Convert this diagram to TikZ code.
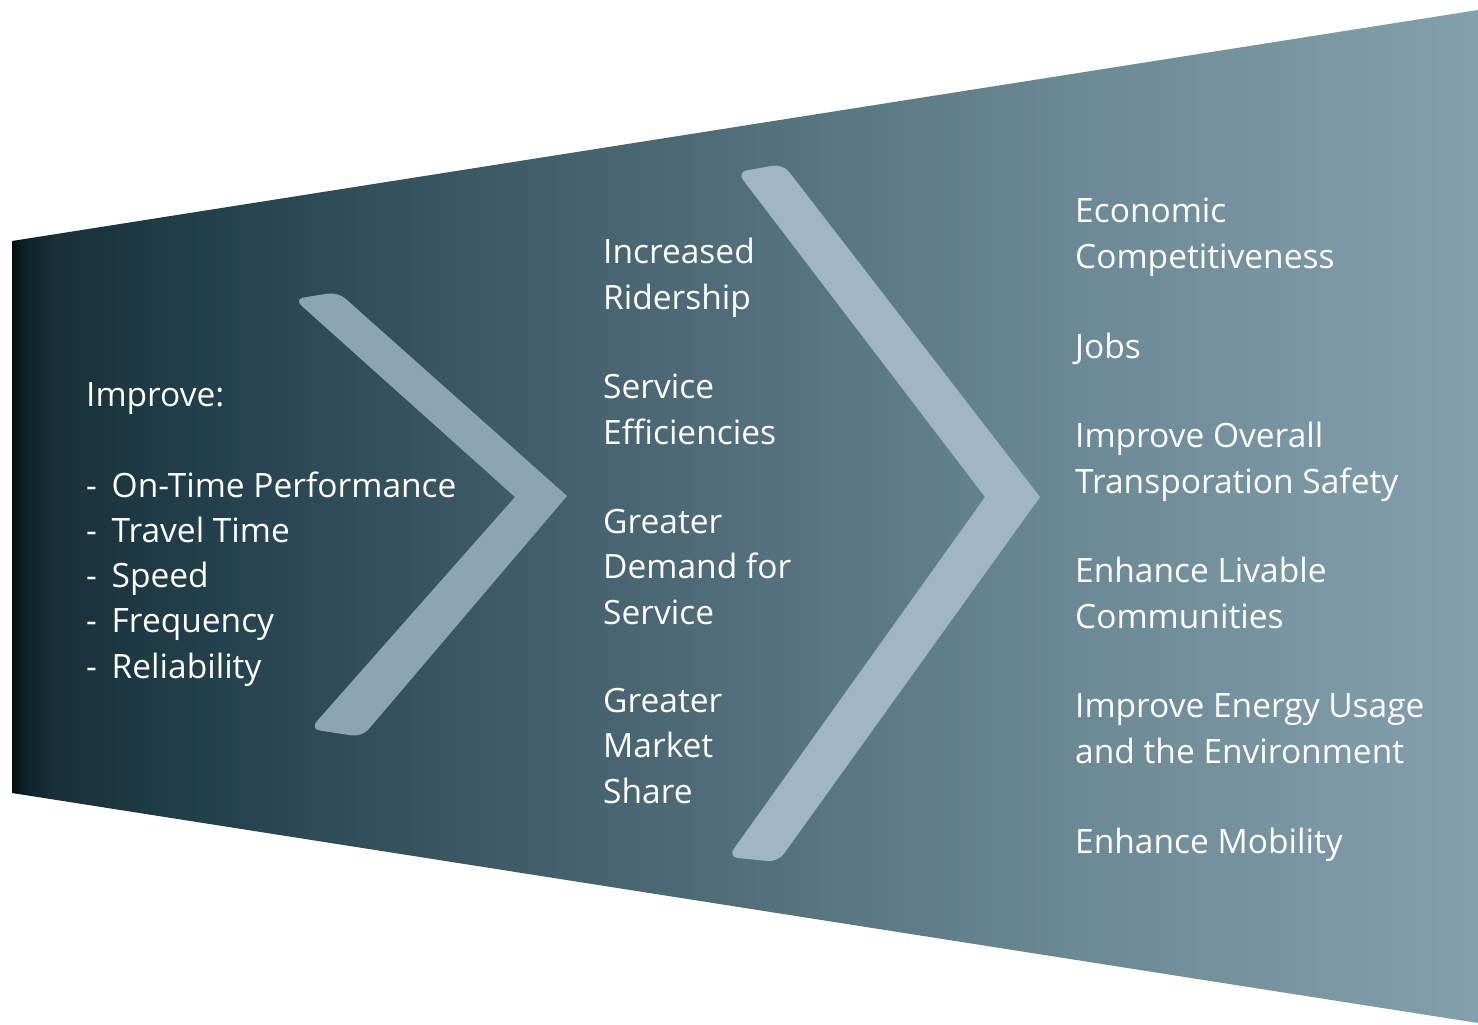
\documentclass[tikz,border=0pt]{standalone}
\usepackage{fontspec}
\setmainfont{Open Sans}
\definecolor{funnelA}{HTML}{030D11}
\definecolor{funnelB}{HTML}{0E232B}
\definecolor{funnelC}{HTML}{183039}
\definecolor{funnelD}{HTML}{22404B}
\definecolor{funnelE}{HTML}{2C4955}
\definecolor{funnelF}{HTML}{45626E}
\definecolor{funnelG}{HTML}{6B8895}
\definecolor{funnelH}{HTML}{84A0AC}
\definecolor{chevA}{HTML}{8CA5B2}
\definecolor{chevB}{HTML}{A0B6C2}
% the band only shows the middle half (25bp--75bp) of the shading
\pgfdeclarehorizontalshading{funnelshade}{100bp}{color(0bp)=(funnelA); color(25bp)=(funnelA);
  color(25.5bp)=(funnelB); color(26.5bp)=(funnelC); color(31.5bp)=(funnelD);
  color(35bp)=(funnelE); color(44.5bp)=(funnelF); color(61bp)=(funnelG);
  color(75bp)=(funnelH); color(100bp)=(funnelH)}
\newcommand\listdash{\makebox[25.5pt][l]{-}}
\begin{document}
\begin{tikzpicture}[x=1pt,y=-1pt,
  txt/.style={anchor=base west, inner sep=0pt, text=white, align=left,
    font=\fontsize{33.5}{45.2}\selectfont}]
\useasboundingbox (0,0) rectangle (1478,1025);
\fill[white] (0,0) rectangle (1478,1025);

% widening band
\shade[shading=funnelshade] (12,241) -- (1478,10) -- (1478,1023) -- (12,793) -- cycle;

% first chevron
\coordinate (a1) at (294,299);
\coordinate (a2) at (338,292);
\coordinate (a3) at (567,496);
\coordinate (a4) at (362,737);
\coordinate (a5) at (310,729);
\coordinate (a6) at (515,497);
\fill[chevA] (a1) [rounded corners=10] -- (a2) [sharp corners] -- (a3)
  [rounded corners=10] -- (a4) -- (a5) [sharp corners] -- (a6)
  [rounded corners=10] -- cycle;

% second chevron
\coordinate (b1) at (737,172);
\coordinate (b2) at (783,164);
\coordinate (b3) at (1040,497);
\coordinate (b4) at (778,862);
\coordinate (b5) at (728,857);
\coordinate (b6) at (985,497);
\fill[chevB] (b1) [rounded corners=10] -- (b2) [sharp corners] -- (b3)
  [rounded corners=10] -- (b4) -- (b5) [sharp corners] -- (b6)
  [rounded corners=10] -- cycle;

% inputs (multi-line nodes sit on the baseline of their last line)
\node[txt] (improve) at (86,678) {Improve:\\[45.2pt]
  \listdash On-Time Performance\\
  \listdash Travel Time\\
  \listdash Speed\\
  \listdash Frequency\\
  \listdash Reliability};

% outcomes
\node[txt] (ridership) at (603,309) {Increased\\Ridership};
\node[txt] (efficiency) at (603,444) {Service\\Efficiencies};
\node[txt] (demand) at (603,624) {Greater\\Demand for\\Service};
\node[txt] (market) at (603,803) {Greater\\Market\\Share};

% goals
\node[txt] (economic) at (1075,268) {Economic\\Competitiveness};
\node[txt] (jobs) at (1075,358) {Jobs};
\node[txt] (safety) at (1075,493) {Improve Overall\\Transporation Safety};
\node[txt] (livable) at (1075,628) {Enhance Livable\\Communities};
\node[txt] (energy) at (1075,763) {Improve Energy Usage\\and the Environment};
\node[txt] (mobility) at (1075,853) {Enhance Mobility};
\end{tikzpicture}
\end{document}
